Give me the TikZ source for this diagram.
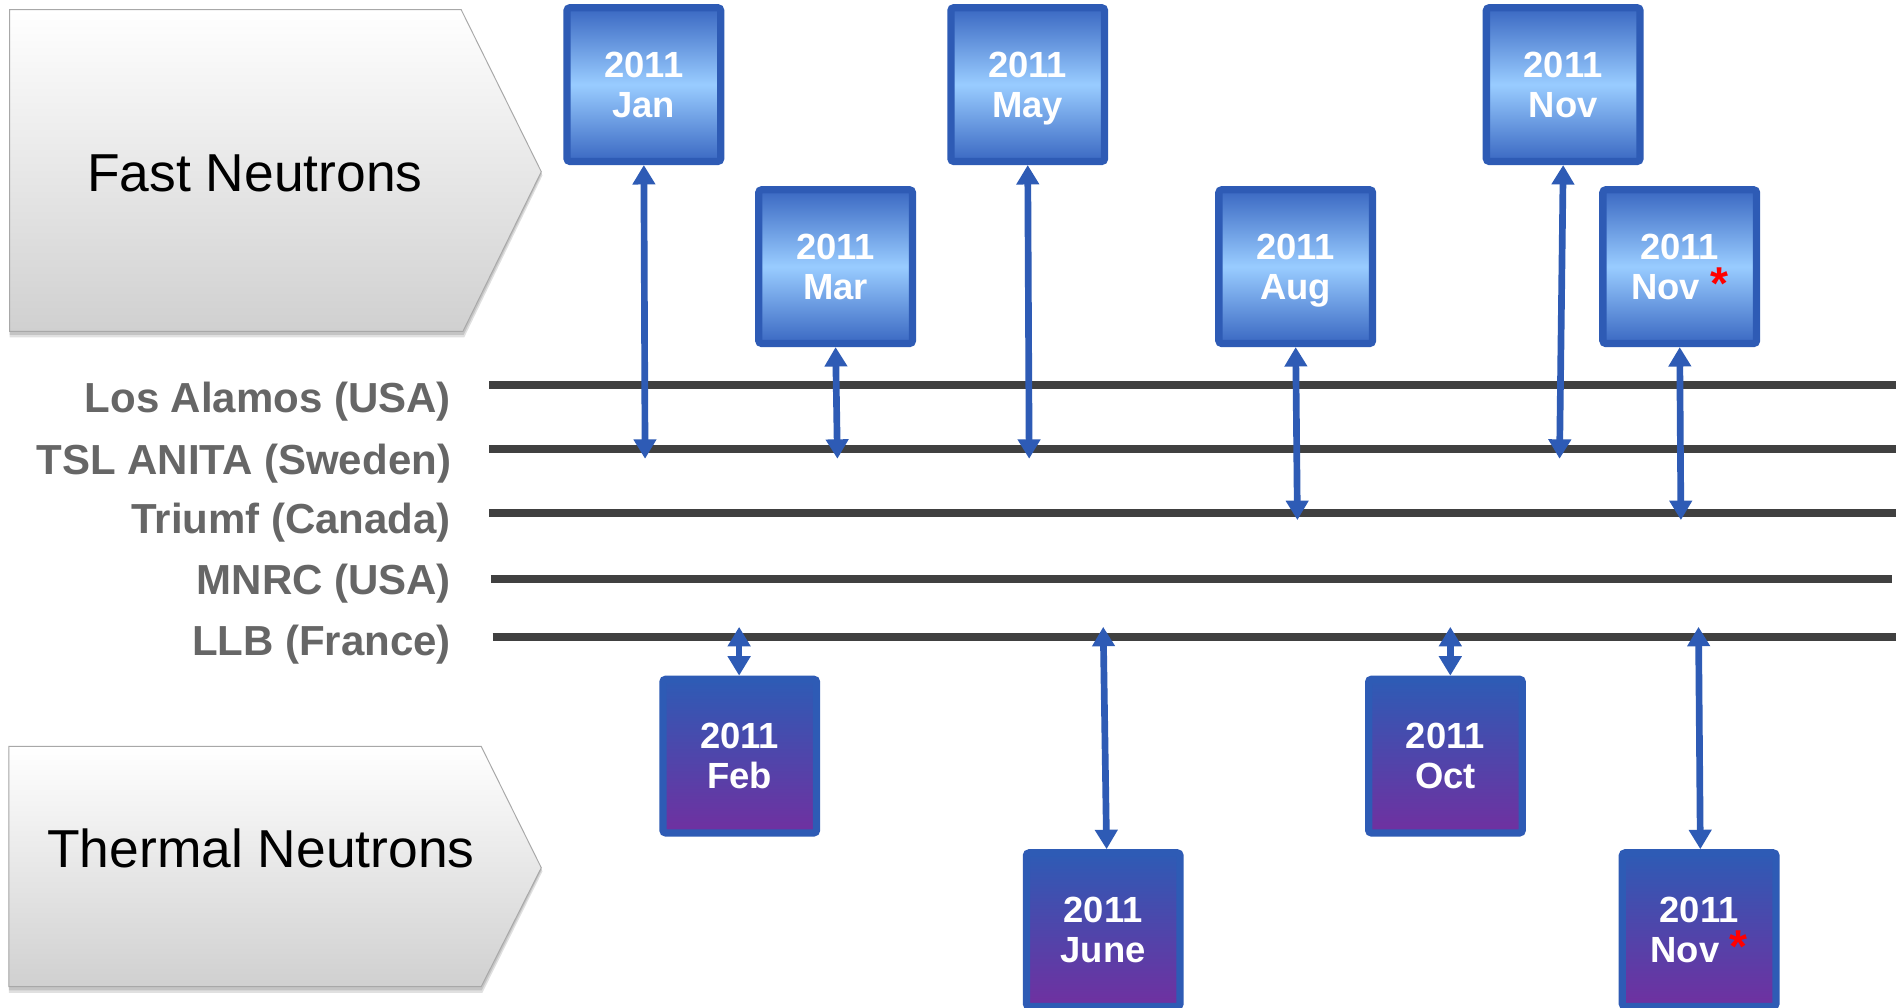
\documentclass[tikz,border=0pt]{standalone}
\usepackage{fontspec}
\setmainfont{Liberation Sans}
\usetikzlibrary{arrows.meta}
\definecolor{boxblue}{HTML}{2E5BB5}
\definecolor{boxlight}{HTML}{99CCFF}
\definecolor{boxmid}{HTML}{3A68C2}
\definecolor{boxpurple}{HTML}{7030A0}
\definecolor{linegray}{HTML}{404040}
\definecolor{labgray}{HTML}{666666}
\definecolor{chevedge}{HTML}{A8A8A8}
\definecolor{chevbot}{HTML}{D0D0D0}
\newcommand{\redstar}{{\color{red}\fontsize{19}{16.5}\selectfont*}}
\begin{document}
\begin{tikzpicture}[x=0.5pt,y=-0.5pt,
  datebox/.style={draw=boxblue, line width=3pt, rounded corners=1.2pt,
    minimum width=63.3pt, minimum height=63.3pt, inner sep=0pt, align=center,
    text=white, font=\bfseries\fontsize{15}{16.5}\selectfont},
  fastbox/.style={datebox, top color=boxmid, bottom color=boxmid, middle color=boxlight},
  thermbox/.style={datebox, top color=boxblue, bottom color=boxpurple},
  track/.style={draw=linegray, line width=3.25pt},
  link/.style={draw=boxblue, line width=2.75pt,
    {Triangle[width=9pt,length=8pt]}-{Triangle[width=9pt,length=8pt]}},
  site/.style={anchor=base east, text=labgray, inner sep=0pt,
    font=\bfseries\fontsize{17.3}{20}\selectfont},
  chevtext/.style={font=\fontsize{22}{24}\selectfont, text=black, inner sep=0pt},
  chevshade/.style={top color=white, bottom color=chevbot, draw=chevedge, line width=0.4pt},
  chevshadow/.style={fill=black, opacity=0.12},
]
% canvas
\fill[white] (0,0) rectangle (1568,830);
\useasboundingbox (0,0) rectangle (1568,830);

% chevrons
\fill[chevshadow] (8,12) -- (381,12) -- (447,144.5) -- (382.5,278) -- (8,278) -- cycle;
\fill[chevshadow] (8,10) -- (380.5,10) -- (446.5,143) -- (382,276) -- (8,276) -- cycle;
\shade[chevshade] (8,8) -- (380,8) -- (446,141.5) -- (381.5,273) -- (8,273) -- cycle;
\node[chevtext] (fast) at (210,143) {Fast Neutrons};

\fill[chevshadow] (7.4,619) -- (397.5,619) -- (447,718) -- (397.5,818) -- (7.4,818) -- cycle;
\fill[chevshadow] (7.4,617) -- (397,617) -- (446.5,716.5) -- (397,816) -- (7.4,816) -- cycle;
\shade[chevshade] (7.4,615) -- (396.5,615) -- (446,715) -- (396.5,813) -- (7.4,813) -- cycle;
\node[chevtext] (thermal) at (215,699) {Thermal Neutrons};

% site labels
\node[site] (l-la)  at (372,340)   {Los Alamos (USA)};
\node[site] (l-tsl) at (372,390.6) {TSL ANITA (Sweden)};
\node[site] (l-tri) at (372,439.5) {Triumf (Canada)};
\node[site] (l-mn)  at (372,490)   {MNRC (USA)};
\node[site] (l-llb) at (372,539.7) {LLB (France)};

% tracks
\coordinate (la-w)  at (403,317.5);   \coordinate (la-e)  at (1562,317.5);
\coordinate (tsl-w) at (403,370);     \coordinate (tsl-e) at (1562,370);
\coordinate (tri-w) at (403,422.7);   \coordinate (tri-e) at (1562,422.7);
\coordinate (mn-w)  at (404.5,477);   \coordinate (mn-e)  at (1559,477);
\coordinate (llb-w) at (406,524.5);   \coordinate (llb-e) at (1562,524.5);
\draw[track] (la-w) -- (la-e);
\draw[track] (tsl-w) -- (tsl-e);
\draw[track] (tri-w) -- (tri-e);
\draw[track] (mn-w) -- (mn-e);
\draw[track] (llb-w) -- (llb-e);

% date boxes
\node[fastbox] (jan)  at (530.5,69.7)  {2011\\\smash{Jan}};
\node[fastbox] (may)  at (846.8,69.7)  {2011\\\smash{May}};
\node[fastbox] (nov)  at (1288,69.7)   {2011\\\smash{Nov}};
\node[fastbox] (mar)  at (688.5,219.7) {2011\\\smash{Mar}};
\node[fastbox] (aug)  at (1067.6,219.7){2011\\\smash{Aug}};
\node[fastbox] (novs) at (1384,219.7)  {2011\\\smash{Nov \redstar}};

\node[thermbox] (feb)  at (609.5,623)  {2011\\\smash{Feb}};
\node[thermbox] (oct)  at (1191,623)   {2011\\\smash{Oct}};
\node[thermbox] (june) at (909,766)    {2011\\\smash{June}};
\node[thermbox] (novb) at (1400,766)   {2011\\\smash{Nov \redstar}};

% arrow ends on tracks
\coordinate (jan-t)  at (531.5,378);
\coordinate (mar-t)  at (690,378);
\coordinate (may-t)  at (848,378);
\coordinate (nov-t)  at (1285,378);
\coordinate (aug-t)  at (1069,428.5);
\coordinate (novs-t) at (1385,428.5);
\coordinate (feb-t)  at (609,516.5);
\coordinate (june-t) at (909,516.5);
\coordinate (oct-t)  at (1195,516.5);
\coordinate (novb-t) at (1399.5,516.5);

% connectors
\draw[link] (jan.south) -- (jan-t);
\draw[link] (mar.south) -- (mar-t);
\draw[link] (may.south) -- (may-t);
\draw[link] (nov.south) -- (nov-t);
\draw[link] (aug.south) -- (aug-t);
\draw[link] (novs.south) -- (novs-t);
\draw[link] (feb-t) -- (feb-t |- feb.north);
\draw[link] (june-t) -- ([xshift=1.4pt]june.north);
\draw[link] (oct-t) -- (oct-t |- oct.north);
\draw[link] (novb-t) -- ([xshift=0.5pt]novb.north);
\end{tikzpicture}
\end{document}
